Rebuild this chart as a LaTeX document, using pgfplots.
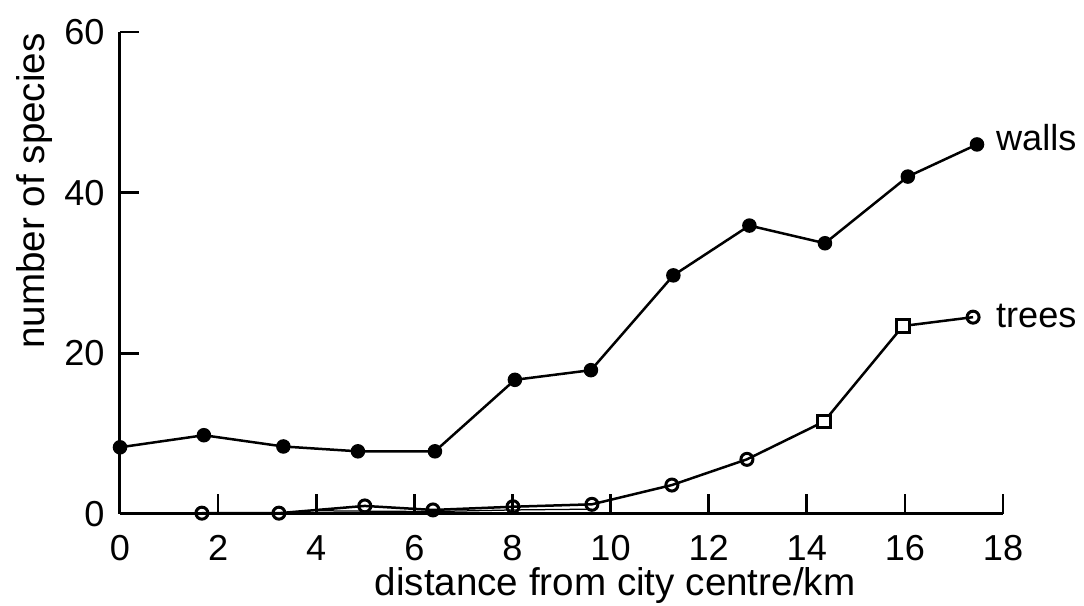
\documentclass[border=0pt]{standalone}
\usepackage{fontspec}
\setmainfont{Liberation Sans}
\usepackage{pgfplots}
\pgfplotsset{compat=1.18}
\begin{document}
\fontsize{15}{18}\selectfont
\begin{tikzpicture}
\begin{axis}[
  scale only axis,
  width=353.2bp, height=192.8bp,
  xmin=0, xmax=18, ymin=0, ymax=60,
  axis x line*=bottom, axis y line*=left,
  axis line style={line width=1.2bp, -},
  xtick={2,4,...,18}, ytick={20,40,60},
  extra x ticks={0}, extra x tick style={major tick length=0pt},
  extra y ticks={0}, extra y tick style={major tick length=0pt},
  tick align=inside,
  major tick length=7.8bp,
  tick style={line width=1.1bp, black},
  /pgf/number format/assume math mode=true,
  ticklabel style={font=\fontsize{14.5}{17}\selectfont},
  xticklabel style={yshift=-3.5bp},
  yticklabel style={xshift=-1bp},
  clip=false,
  every axis x label/.style={at={(axis cs:10.09,-8.9)}, anchor=center, inner sep=0pt},
  every axis y label/.style={at={(axis cs:-1.75,40.2)}, anchor=center, rotate=90, inner sep=0pt},
  label style={font=\fontsize{15.5}{18}\selectfont},
  xlabel={distance from city centre/km},
  ylabel={number of species},
]
\path (axis cs:-2.446,-11.452) rectangle (axis cs:19.651,63.98);
% walls
\addplot[black, line width=1bp, mark=*, mark size=2.4bp, mark options={solid, fill=black}] coordinates {
(0,8.3) (1.71,9.8) (3.33,8.4) (4.85,7.8) (6.42,7.8) (8.05,16.7) (9.6,17.9) (11.28,29.7) (12.83,35.9) (14.37,33.7) (16.06,42.0) (17.47,46.0)
};
% trees line
\addplot[black, line width=1bp, mark=none] coordinates {
(1.67,0.1) (3.24,0.1) (4.99,1.0) (6.38,0.5) (8.01,0.9) (9.62,1.2) (11.25,3.6) (12.78,6.8) (14.35,11.5) (15.96,23.4) (17.39,24.5)
};
\addplot[black, line width=0.5bp, mark=none] coordinates {
(4.0,0.4) (6.38,0.3) (8.01,0.5) (9.62,0.6)
};
% trees circles
\addplot[only marks, mark=o, mark size=2.4bp, mark options={line width=1.2bp, fill=white, draw=black}] coordinates {
(1.67,0.1) (3.24,0.1) (4.99,1.0) (6.38,0.5) (8.01,0.9) (9.62,1.2) (11.25,3.6) (12.78,6.8) (17.39,24.5)
};
% trees squares
\addplot[only marks, mark=square*, mark size=2.5bp, mark options={line width=1.2bp, fill=white, draw=black}] coordinates {
(14.35,11.5) (15.96,23.4)
};
\node[anchor=west, inner sep=0pt, font=\fontsize{14.5}{17}\selectfont] at (axis cs:17.85,46.9) {walls};
\node[anchor=west, inner sep=0pt, font=\fontsize{14.5}{17}\selectfont] at (axis cs:17.85,24.6) {trees};
\end{axis}
\end{tikzpicture}
\end{document}
